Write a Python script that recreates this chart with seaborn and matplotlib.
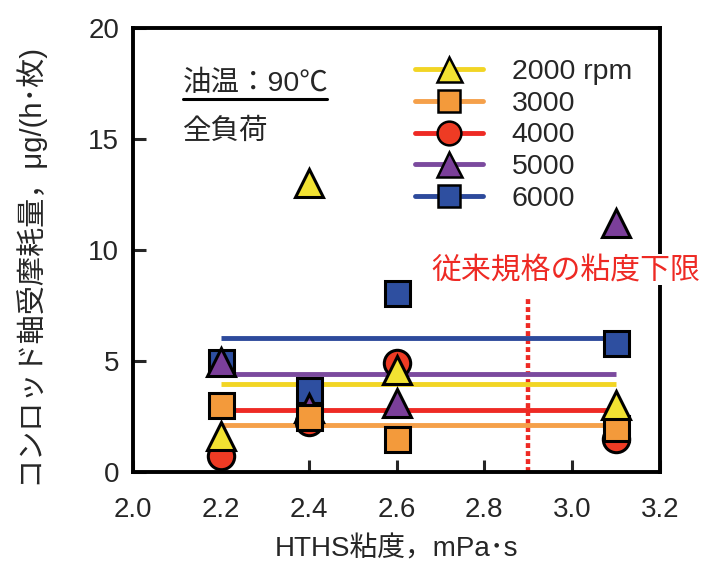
import numpy as np
import pandas as pd
import matplotlib
matplotlib.use('Agg')
import matplotlib.pyplot as plt
from matplotlib.lines import Line2D
import seaborn as sns

# HTHS viscosity of the test oils
hths = [2.2, 2.4, 2.6, 3.1]

# bearing wear per engine speed
wear_2000 = [1.6, 13.0, 4.6, 3.0]
wear_3000 = [3.0, 2.5, 1.5, 2.0]
wear_4000 = [0.7, 2.25, 4.9, 1.5]
wear_5000 = [4.95, 2.9, 3.1, 11.2]
wear_6000 = [4.95, 3.7, 8.05, 5.8]

# averaged levels shown as horizontal lines
level_2000 = 3.95
level_3000 = 2.1
level_4000 = 2.8
level_5000 = 4.4
level_6000 = 6.05

speeds = ['2000 rpm', '3000', '4000', '5000', '6000']
limit_x = 2.9
limit_top = 7.8

colors = {'2000 rpm': '#F2E232', '3000': '#F39A3B', '4000': '#EE3B24',
          '5000': '#7B3F9A', '6000': '#2E4FA0'}
line_colors = {'2000 rpm': '#F2D524', '3000': '#F5A04A', '4000': '#EE2A24',
               '5000': '#7B4A9E', '6000': '#2D4A9C'}
markers = {'2000 rpm': '^', '3000': 's', '4000': 'o', '5000': '^', '6000': 's'}
msize = {'2000 rpm': 20, '3000': 18, '4000': 19, '5000': 20, '6000': 18}

wear = dict(zip(speeds, [wear_2000, wear_3000, wear_4000, wear_5000, wear_6000]))
levels = dict(zip(speeds, [level_2000, level_3000, level_4000, level_5000, level_6000]))

rows = []
for sp in speeds:
    for x, y in zip(hths, wear[sp]):
        rows.append({'hths': x, 'wear': y, 'speed': sp})
df = pd.DataFrame(rows)

sns.set_style('ticks')
plt.rcParams['font.family'] = ['Liberation Sans', 'Noto Sans CJK JP']

fig = plt.figure(figsize=(7.22, 5.65), dpi=100)
ax = fig.add_axes([0.1842, 0.1646, 0.7300, 0.7858])

# horizontal mean lines
for sp in speeds:
    ax.plot([hths[0], hths[-1]], [levels[sp], levels[sp]], color=line_colors[sp],
            lw=3.5, zorder=2, solid_capstyle='butt')

# points, drawn 6000 first so lower speeds lie on top
for sp in ['6000', '5000', '4000', '3000', '2000 rpm']:
    sub = df[df['speed'] == sp]
    ax.plot(sub['hths'], sub['wear'], ls='none', marker=markers[sp], ms=msize[sp],
            mfc=colors[sp], mec='black', mew=2.2, zorder=3, clip_on=False)

# lower viscosity limit of conventional standard
ax.plot([limit_x, limit_x], [0, limit_top], color='#EE2A24', lw=3.2,
        ls=(0, (1.1, 0.7)), zorder=1)
ax.text(2.986, 9.1, '従来規格の粘度下限', color='#EE2A24', fontsize=21.5,
        ha='center', va='center', zorder=5,
        bbox=dict(facecolor='white', edgecolor='none', pad=1))

ax.text(2.114, 17.5, '油温：90℃', fontsize=20.5, ha='left', va='center')
ax.plot([2.114, 2.442], [16.8, 16.8], color='black', lw=2.2, clip_on=False)
ax.text(2.114, 15.35, '全負荷', fontsize=20.5, ha='left', va='center')

ax.set_xlim(2.0, 3.2)
ax.set_ylim(0, 20)
ax.set_xticks(np.arange(2.0, 3.21, 0.2))
ax.set_xticklabels(['2.0', '2.2', '2.4', '2.6', '2.8', '3.0', '3.2'])
ax.set_yticks([0, 5, 10, 15, 20])
ax.tick_params(direction='in', length=9, width=2.2, labelsize=20)
ax.tick_params(axis='x', pad=18)
ax.tick_params(axis='y', pad=10)
for s in ax.spines.values():
    s.set_linewidth(2.8)
    s.set_color('black')

ax.set_xlabel('HTHS粘度，mPa･s', fontsize=20)
ax.xaxis.set_label_coords(0.5, -0.175)
ax.xaxis.label.set_va('center')
ax.set_ylabel('コンロッド軸受摩耗量，μg/(h･枚)', fontsize=21)
ax.yaxis.set_label_coords(-0.17, 0.47)

handles = [Line2D([0], [0], color=line_colors[sp], lw=3.5, marker=markers[sp],
                  ms=msize[sp] * 0.9, mfc=colors[sp], mec='black', mew=1.8)
           for sp in speeds]
leg = ax.legend(handles, speeds, loc='upper left', bbox_to_anchor=(0.535, 0.93),
                frameon=False, fontsize=20.5, handlelength=2.4, handletextpad=1.0,
                labelspacing=0.2, borderaxespad=0, borderpad=0)

fig.savefig('out.png', dpi=100)
